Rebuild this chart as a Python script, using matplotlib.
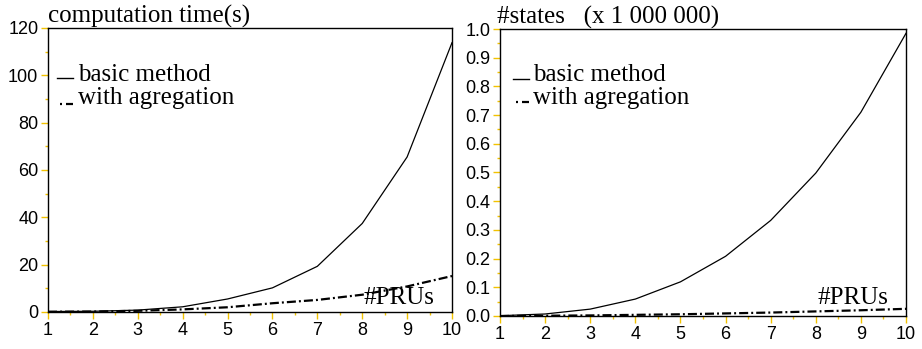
import matplotlib
matplotlib.use('Agg')
import matplotlib.pyplot as plt
from matplotlib.ticker import MultipleLocator

# number of PRUs
prus = [1, 2, 3, 4, 5, 6, 7, 8, 9, 10]

# computation time (s)
time_basic = [0.2, 0.3, 0.8, 2.2, 5.5, 10.2, 19.3, 37.4, 65.5, 113.8]
time_aggr = [0.1, 0.2, 0.5, 1.1, 2.0, 3.7, 5.1, 7.3, 10.8, 15.2]

# number of states (x 1 000 000)
states_basic = [0.001, 0.007, 0.024, 0.059, 0.119, 0.208, 0.333, 0.498, 0.710, 0.985]
states_aggr = [0.0, 0.001, 0.002, 0.004, 0.006, 0.009, 0.012, 0.016, 0.020, 0.025]

plt.rcParams['lines.scale_dashes'] = False

SERIF = 'Liberation Serif'
SANS = 'Liberation Sans'
TICK_COLOR = '#f2c200'
AGGR_DASH = (0, (6.5, 2.2, 1.4, 2.2))

fig = plt.figure(figsize=(9.22, 3.49), dpi=100)
ax1 = fig.add_axes([48 / 922, 1 - 312 / 349, 404 / 922, 284 / 349])
ax2 = fig.add_axes([500 / 922, 1 - 316 / 349, 406 / 922, 287 / 349])


def style_axes(ax, ymax, ymajor, yminor, yfmt):
    ax.set_xlim(1, 10)
    ax.set_ylim(0, ymax)
    ax.xaxis.set_major_locator(MultipleLocator(1))
    ax.xaxis.set_minor_locator(MultipleLocator(0.5))
    ax.yaxis.set_major_locator(MultipleLocator(ymajor))
    ax.yaxis.set_minor_locator(MultipleLocator(yminor))
    ax.yaxis.set_major_formatter(yfmt)
    ax.tick_params(which='major', direction='out', length=5, width=1,
                   color=TICK_COLOR, labelsize=13, pad=2)
    ax.tick_params(which='minor', direction='out', length=2.5, width=1,
                   color=TICK_COLOR)
    for lab in ax.get_xticklabels() + ax.get_yticklabels():
        lab.set_fontfamily(SANS)
    for sp in ax.spines.values():
        sp.set_linewidth(1.0)
        sp.set_color('black')


def draw_legend(ax, x0, x1, xt, y_basic, y_aggr, yt_basic, yt_aggr):
    # small hand-made legend like the original
    ax.plot([x0, x1], [y_basic, y_basic], color='black', lw=1.0,
            transform=ax.transAxes, clip_on=False)
    w = x1 - x0
    ax.plot([x0 + 0.2 * w, x0 + 0.3 * w], [y_aggr, y_aggr], color='black', lw=1.6,
            transform=ax.transAxes, clip_on=False, solid_capstyle='butt')
    ax.plot([x0 + 0.55 * w, x1], [y_aggr, y_aggr], color='black', lw=1.6,
            transform=ax.transAxes, clip_on=False, solid_capstyle='butt')
    ax.text(xt, yt_basic, 'basic method', transform=ax.transAxes,
            family=SERIF, fontsize=18, va='baseline')
    ax.text(xt, yt_aggr, 'with agregation', transform=ax.transAxes,
            family=SERIF, fontsize=18, va='baseline')


# left: computation time
ax1.plot(prus, time_basic, color='black', lw=0.9)
ax1.plot(prus, time_aggr, color='black', lw=1.6, linestyle=AGGR_DASH)
style_axes(ax1, 120, 20, 10, '{x:.0f}')
ax1.text(0, 1.02, 'computation time(s)', transform=ax1.transAxes,
         family=SERIF, fontsize=18, va='baseline')
draw_legend(ax1, 0.022, 0.062, 0.074, 0.824, 0.734, 0.813, 0.732)
ax1.text(0.78, 0.028, '#PRUs', transform=ax1.transAxes,
         family=SERIF, fontsize=18, va='baseline')

# right: number of states
ax2.plot(prus, states_basic, color='black', lw=0.9)
ax2.plot(prus, states_aggr, color='black', lw=1.6, linestyle=AGGR_DASH)
style_axes(ax2, 1.0, 0.1, 0.05, '{x:.1f}')
ax2.text(-0.008, 1.018, '#states   (x 1 000 000)', transform=ax2.transAxes,
         family=SERIF, fontsize=18, va='baseline')
draw_legend(ax2, 0.032, 0.071, 0.081, 0.826, 0.746, 0.819, 0.739)
ax2.text(0.781, 0.042, '#PRUs', transform=ax2.transAxes,
         family=SERIF, fontsize=18, va='baseline')

fig.savefig('out.png', dpi=100)
